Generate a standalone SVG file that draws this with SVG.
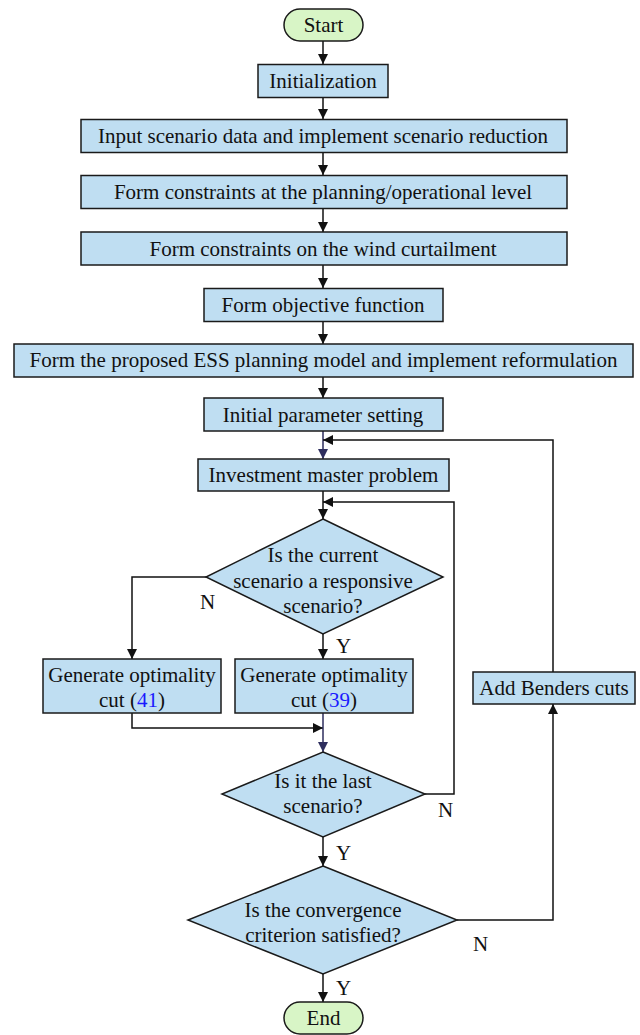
<svg xmlns="http://www.w3.org/2000/svg" width="640" height="1035" viewBox="0 0 640 1035">
<style>
.box{fill:#bfdef2;stroke:#1a1a1a;stroke-width:1.5}
.term{fill:#d8f5c6;stroke:#1a1a1a;stroke-width:1.5}
.t{font-family:"Liberation Serif","Times New Roman",serif;font-size:21px;fill:#111;text-anchor:middle}
.lbl{font-family:"Liberation Serif","Times New Roman",serif;font-size:21px;fill:#111}
.ref{fill:#1a1aff}
.c{fill:none;stroke:#111;stroke-width:1.5}
.cd{fill:none;stroke:#2e2e5e;stroke-width:1.5}
</style>
<defs>
<marker id="ah" markerWidth="10" markerHeight="10" refX="10" refY="5" orient="auto" markerUnits="userSpaceOnUse">
<path d="M0,0 L10,5 L0,10 Z" fill="#111"/>
</marker>
<marker id="ahd" markerWidth="10" markerHeight="10" refX="10" refY="5" orient="auto" markerUnits="userSpaceOnUse">
<path d="M0,0 L10,5 L0,10 Z" fill="#2e2e5e"/>
</marker>
</defs>

<g id="connectors">
<path class="c" d="M323,41 V64" marker-end="url(#ah)"/>
<path class="c" d="M323,97 V119" marker-end="url(#ah)"/>
<path class="c" d="M323,152 V175" marker-end="url(#ah)"/>
<path class="c" d="M323,208 V232" marker-end="url(#ah)"/>
<path class="c" d="M323,265 V288" marker-end="url(#ah)"/>
<path class="c" d="M323,321 V344" marker-end="url(#ah)"/>
<path class="c" d="M323,377 V398" marker-end="url(#ah)"/>
<path class="cd" d="M323,431 V459" marker-end="url(#ahd)"/>
<path class="c" d="M553,672 V440 H323" marker-end="url(#ah)"/>
<path class="c" d="M323,491 V519" marker-end="url(#ah)"/>
<path class="c" d="M425,794 H454 V502 H323" marker-end="url(#ah)"/>
<path class="c" d="M206,577 H132 V659" marker-end="url(#ah)"/>
<path class="c" d="M323,634 V659" marker-end="url(#ah)"/>
<path class="c" d="M132,713 V728 H323" marker-end="url(#ah)"/>
<path class="cd" d="M323,713 V752" marker-end="url(#ahd)"/>
<path class="c" d="M323,837 V866" marker-end="url(#ah)"/>
<path class="c" d="M457,920 H553 V704" marker-end="url(#ah)"/>
<path class="c" d="M323,974 V1002" marker-end="url(#ah)"/>
<text class="lbl" x="200" y="609">N</text>
<text class="lbl" x="336" y="653">Y</text>
<text class="lbl" x="438" y="817">N</text>
<text class="lbl" x="336" y="860">Y</text>
<text class="lbl" x="473" y="951">N</text>
<text class="lbl" x="336" y="995">Y</text>
</g>

<g id="start"><rect class="term" x="284" y="9" width="79" height="32" rx="16"/><text class="t" x="323.5" y="32">Start</text></g>
<g id="init"><rect class="box" x="258" y="64.5" width="130" height="33"/><text class="t" x="323" y="88">Initialization</text></g>
<g id="input"><rect class="box" x="81" y="119.5" width="486" height="33"/><text class="t" x="323" y="143">Input scenario data and implement scenario reduction</text></g>
<g id="planning"><rect class="box" x="81" y="175.5" width="486" height="33"/><text class="t" x="323" y="199">Form constraints at the planning/operational level</text></g>
<g id="wind"><rect class="box" x="81" y="232" width="486" height="33"/><text class="t" x="323" y="256">Form constraints on the wind curtailment</text></g>
<g id="objective"><rect class="box" x="204" y="288.5" width="239" height="33"/><text class="t" x="323" y="312">Form objective function</text></g>
<g id="ess"><rect class="box" x="14" y="344" width="619" height="33"/><text class="t" x="323.5" y="367">Form the proposed ESS planning model and implement reformulation</text></g>
<g id="initparam"><rect class="box" x="204" y="398" width="239" height="33"/><text class="t" x="323" y="422">Initial parameter setting</text></g>
<g id="master"><rect class="box" x="198" y="459" width="251" height="32"/><text class="t" x="323.5" y="482">Investment master problem</text></g>
<g id="d1"><polygon class="box" points="323,519 443,577 323,634 206,577"/>
<text class="t" x="323" y="562">Is the current</text>
<text class="t" x="323" y="588">scenario a responsive</text>
<text class="t" x="323" y="613">scenario?</text></g>
<g id="gen41"><rect class="box" x="43" y="659" width="178" height="54"/>
<text class="t" x="132" y="682">Generate optimality</text>
<text class="t" x="132" y="707">cut (<tspan class="ref">41</tspan>)</text></g>
<g id="gen39"><rect class="box" x="235" y="659" width="178" height="54"/>
<text class="t" x="324" y="682">Generate optimality</text>
<text class="t" x="324" y="707">cut (<tspan class="ref">39</tspan>)</text></g>
<g id="benders"><rect class="box" x="473" y="672" width="162" height="32"/><text class="t" x="554" y="695">Add Benders cuts</text></g>
<g id="d2"><polygon class="box" points="323,752 425,794 323,837 222,794"/>
<text class="t" x="323" y="788">Is it the last</text>
<text class="t" x="323" y="813">scenario?</text></g>
<g id="d3"><polygon class="box" points="323,866 457,920 323,974 188,920"/>
<text class="t" x="323" y="917">Is the convergence</text>
<text class="t" x="323" y="942">criterion satisfied?</text></g>
<g id="end"><rect class="term" x="284" y="1002" width="79" height="32" rx="16"/><text class="t" x="323.5" y="1025">End</text></g>
</svg>
